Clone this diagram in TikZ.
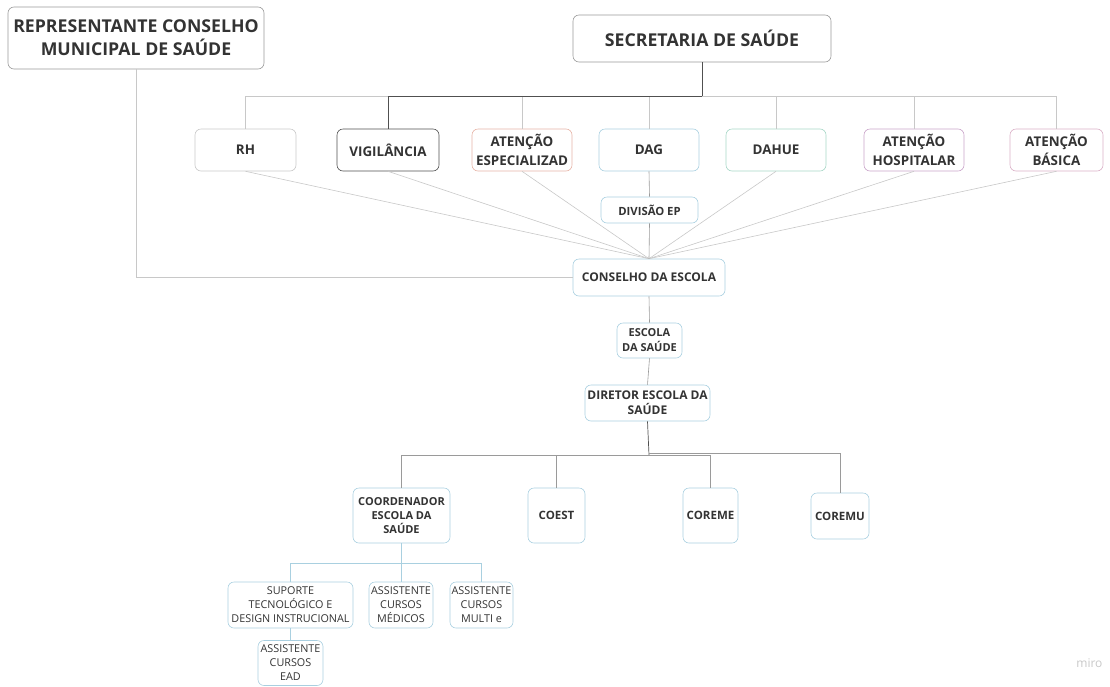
\documentclass[tikz,border=0pt]{standalone}
\usepackage{fontspec}
\setmainfont{Open Sans}
\definecolor{txt}{HTML}{333333}
\definecolor{lgray}{HTML}{C8C8C8}
\definecolor{mgray}{HTML}{9A9A9A}
\definecolor{dgray}{HTML}{505050}
\definecolor{lblue}{HTML}{A9CFE0}
\definecolor{lorange}{HTML}{E6B3A6}
\definecolor{lteal}{HTML}{A6D6C6}
\definecolor{lpurple}{HTML}{C9A3C9}
\definecolor{lpink}{HTML}{D9AFC6}
\definecolor{bline}{HTML}{A9D0E0}
\begin{document}
\begin{tikzpicture}[x=1pt,y=-1pt,
  box/.style={draw, rounded corners=6pt, align=center, inner sep=0pt, text=txt, line width=0.6pt},
  bigbox/.style={box, draw=mgray, font=\fontsize{17.7}{23}\selectfont\bfseries},
  topbox/.style={box, minimum height=42pt, font=\fontsize{13.4}{18.5}\selectfont\bfseries},
  midbox/.style={box, draw=lblue, font=\fontsize{11.5}{15}\selectfont\bfseries},
  lowbox/.style={box, draw=lblue, minimum height=46pt, font=\fontsize{10.8}{14}\selectfont},
  conn/.style={draw=lgray, line width=0.6pt},
  dconn/.style={draw=dgray, line width=0.7pt},
  bconn/.style={draw=bline, line width=0.7pt}]
\useasboundingbox (0,0) rectangle (1110,686);
% top level
\node[bigbox, minimum width=256pt, minimum height=62pt] (rep) at (136,38) {REPRESENTANTE CONSELHO\\MUNICIPAL DE SAÚDE};
\node[bigbox, minimum width=258pt, minimum height=47pt] (sec) at (702,38.5) {SECRETARIA DE SAÚDE};
% second row
\node[topbox, draw=lgray, minimum width=101pt] (rh) at (245.5,150) {RH};
\node[topbox, draw=dgray, minimum width=102pt] (vig) at (388,150) {VIGILÂNCIA};
\node[topbox, draw=lorange, minimum width=100pt] (aes) at (522,150) {ATENÇÃO\\ESPECIALIZAD};
\node[topbox, draw=lblue, minimum width=100pt] (dag) at (649,150) {DAG};
\node[topbox, draw=lteal, minimum width=100pt] (dahue) at (776,150) {DAHUE};
\node[topbox, draw=lpurple, minimum width=100pt] (hosp) at (914,150) {ATENÇÃO\\HOSPITALAR};
\node[topbox, draw=lpink, minimum width=93pt] (bas) at (1056.5,150) {ATENÇÃO\\BÁSICA};
% middle chain
\node[midbox, minimum width=97pt, minimum height=26pt, font=\fontsize{11.3}{15}\selectfont\bfseries] (div) at (649.5,210) {DIVISÃO EP};
\node[midbox, minimum width=152pt, minimum height=37pt, font=\fontsize{12}{15}\selectfont\bfseries] (cons) at (649,277.5) {CONSELHO DA ESCOLA};
\node[midbox, minimum width=65pt, minimum height=35pt, font=\fontsize{11}{15}\selectfont\bfseries] (esc) at (649.5,340.5) {ESCOLA\\DA SAÚDE};
\node[midbox, minimum width=125pt, minimum height=36pt, font=\fontsize{12}{15}\selectfont\bfseries] (dir) at (647.5,403) {DIRETOR ESCOLA DA\\SAÚDE};
% third row
\node[midbox, minimum width=97pt, minimum height=55pt, font=\fontsize{11}{14}\selectfont\bfseries] (coord) at (401.5,515.5) {COORDENADOR\\ESCOLA DA\\SAÚDE};
\node[midbox, minimum width=57pt, minimum height=55pt] (coest) at (556.5,515.5) {COEST};
\node[midbox, minimum width=55pt, minimum height=55pt] (coreme) at (710.5,515.5) {COREME};
\node[midbox, minimum width=58pt, minimum height=46pt] (coremu) at (840,516) {COREMU};
% bottom row
\node[lowbox, minimum width=125pt] (sup) at (290.5,605) {SUPORTE\\TECNOLÓGICO E\\DESIGN INSTRUCIONAL};
\node[lowbox, minimum width=64pt] (med) at (401,605) {ASSISTENTE\\CURSOS\\MÉDICOS};
\node[lowbox, minimum width=63pt] (multi) at (481.5,605) {ASSISTENTE\\CURSOS\\MULTI e};
\node[lowbox, minimum width=65pt, minimum height=45pt] (ead) at (290.5,663) {ASSISTENTE\\CURSOS\\EAD};
% watermark
\node[text=lgray, font=\fontsize{12}{14}\selectfont, anchor=east] (miro) at (1106,663) {miro};
% connectors: top bus
\coordinate (bus) at (702,96);
\draw[conn] (bus) -| (rh.north);
\draw[conn] (bus) -| (aes.north);
\draw[conn] (bus) -| (dag.north);
\draw[conn] (bus) -| (dahue.north);
\draw[conn] (bus) -| (hosp.north);
\draw[conn] (bus) -| (bas.north);
\draw[dconn] (bus) -| (vig.north);
\draw[dconn] (sec.south) -- (bus);
% representante to conselho
\draw[conn] (rep.south) |- (cons.west);
% fan into conselho
\draw[conn] (rh.south) -- (cons.north);
\draw[conn] (vig.south) -- (cons.north);
\draw[conn] (aes.south) -- (cons.north);
\draw[conn] (dahue.south) -- (cons.north);
\draw[conn] (hosp.south) -- (cons.north);
\draw[conn] (bas.south) -- (cons.north);
\draw[conn, draw=mgray] (dag.south) -- (div.north);
\draw[conn, draw=mgray] (div.south) -- (cons.north);
% chain
\draw[conn, draw=mgray] (cons.south) -- (esc.north);
\draw[conn, draw=mgray] (esc.south) -- (dir.north);
% director bus
\coordinate (b2) at (649,455);
\draw[dconn] (dir.south) -- (b2);
\draw[conn, draw=mgray] (b2) -| (coord.north);
\draw[conn, draw=mgray] (b2) -| (coest.north);
\draw[conn, draw=mgray] (b2) -| (coreme.north);
\draw[conn, draw=mgray] ([yshift=2pt]b2) -| (coremu.north);
% coordinator bus
\coordinate (b3) at (401.5,563);
\draw[bconn] (coord.south) -- (b3);
\draw[bconn] (b3) -| (sup.north);
\draw[bconn] (b3) -| (med.north);
\draw[bconn] (b3) -| (multi.north);
\draw[bconn] (sup.south) -- (ead.north);
\end{tikzpicture}
\end{document}
